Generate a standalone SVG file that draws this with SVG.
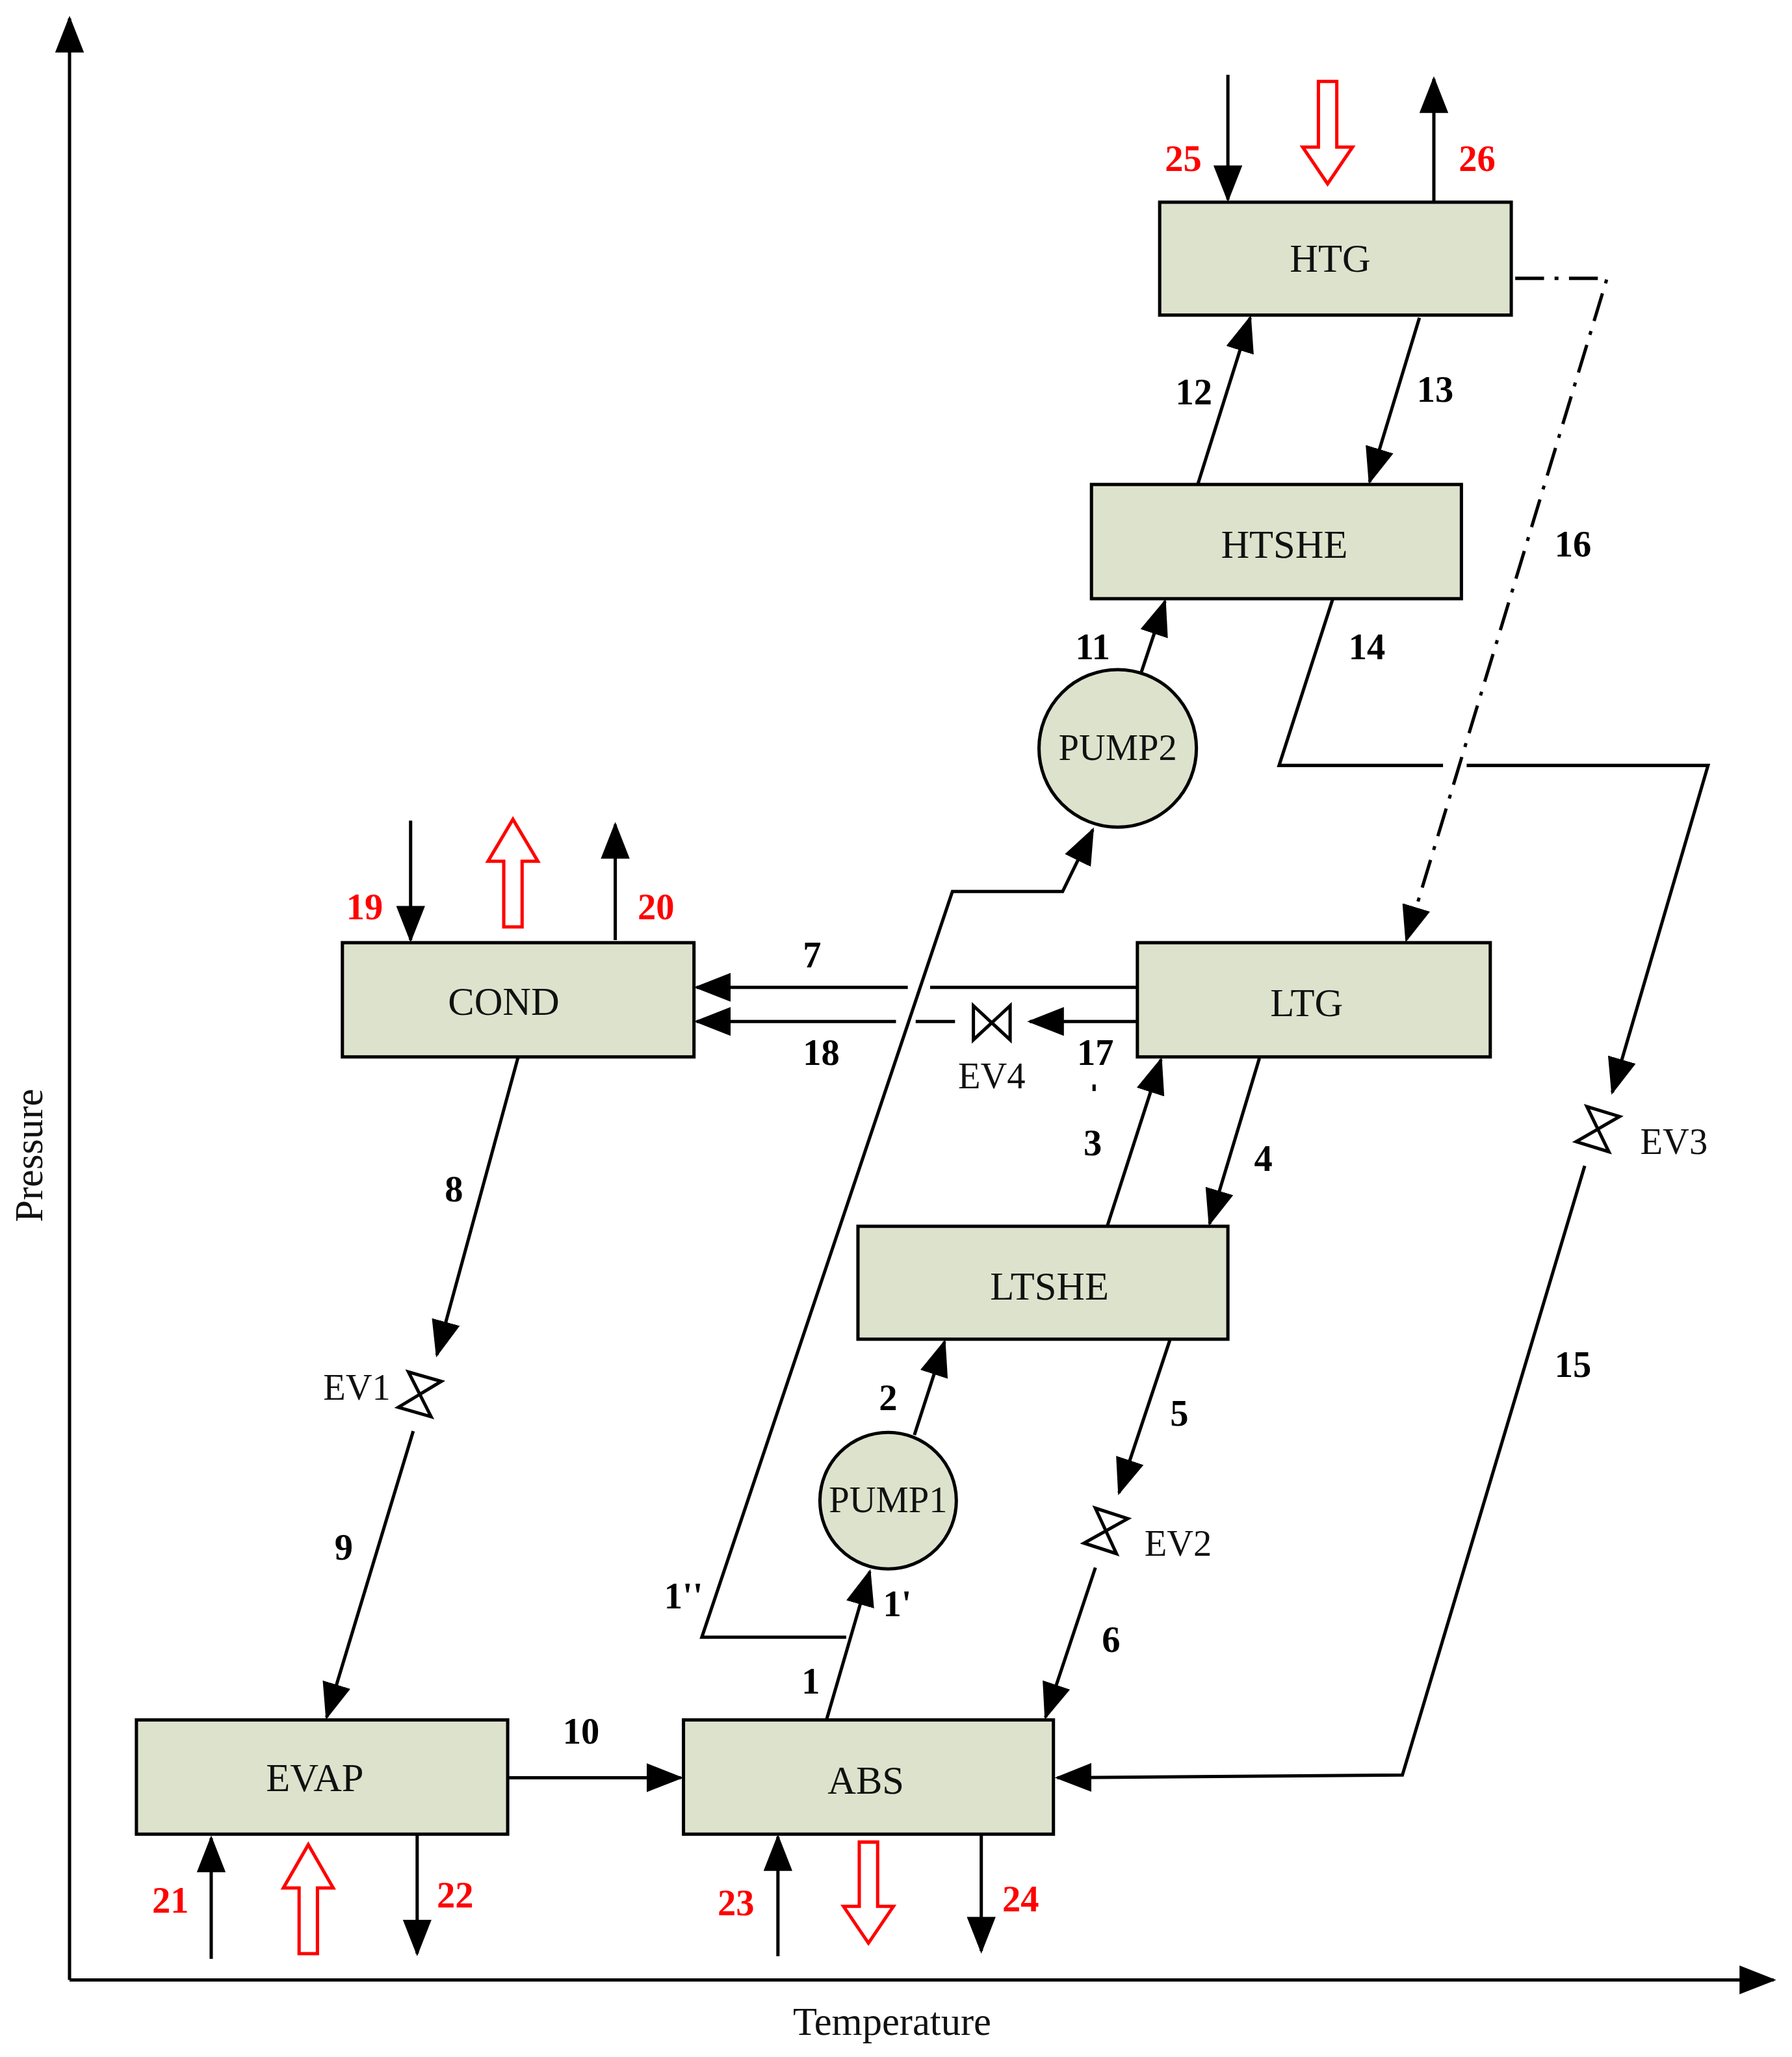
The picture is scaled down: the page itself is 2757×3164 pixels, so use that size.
<svg xmlns="http://www.w3.org/2000/svg" width="2757" height="3164" viewBox="0 0 2757 3164">
<style>
.box{fill:#dde2cc;stroke:#000;stroke-width:2.5}
.ln{fill:none;stroke:#000;stroke-width:2.5}
.dd{fill:none;stroke:#000;stroke-width:2.5;stroke-dasharray:22,8,3,8}
.hol{fill:#fff;stroke:#f00;stroke-width:2.5}
.vl{fill:#fff;stroke:#000;stroke-width:2.5}
.nm{font-family:"Liberation Serif",serif;font-size:30px;text-anchor:middle;fill:#111}
.lb{font-family:"Liberation Serif",serif;font-size:28px;font-weight:bold;text-anchor:middle;fill:#000}
.rd{font-family:"Liberation Serif",serif;font-size:28px;font-weight:bold;text-anchor:middle;fill:#f00}
.ev{font-family:"Liberation Serif",serif;font-size:28px;text-anchor:middle;fill:#111}
</style>
<defs>
<marker id="a" markerUnits="userSpaceOnUse" markerWidth="28" markerHeight="22" refX="26" refY="11" orient="auto"><path d="M0,0 L28,11 L0,22 Z" fill="#000"/></marker>
<path id="bow" d="M-14,-13 L-14,13 L0,0 Z M14,-13 L14,13 L0,0 Z"/>
</defs>
<rect width="2757" height="3164" fill="#fff"/>
<g transform="scale(2.0183,2.0195)">
<g id="axes">
<line class="ln" x1="53" y1="1508" x2="53" y2="14" marker-end="url(#a)"/>
<line class="ln" x1="53" y1="1508" x2="1352" y2="1508" marker-end="url(#a)"/>
<text class="nm" transform="translate(32,880) rotate(-90)">Pressure</text>
<text class="nm" x="680" y="1550">Temperature</text>
</g>
<g id="connectors">
<line class="ln" x1="936" y1="57" x2="936" y2="152" marker-end="url(#a)"/>
<line class="ln" x1="1093" y1="154" x2="1093" y2="60" marker-end="url(#a)"/>
<line class="ln" x1="913" y1="369" x2="953" y2="242" marker-end="url(#a)"/>
<line class="ln" x1="1082" y1="242" x2="1044" y2="367" marker-end="url(#a)"/>
<polyline class="dd" points="1155,212 1225,212 1072,716" marker-end="url(#a)"/>
<polyline class="ln" points="1016,456 975,583 1100,583"/>
<polyline class="ln" points="1118,583 1302,583 1229,832" marker-end="url(#a)"/>
<polyline class="ln" points="1208,888 1069,1352 806,1354" marker-end="url(#a)"/>
<line class="ln" x1="870" y1="512" x2="888" y2="458" marker-end="url(#a)"/>
<polyline class="ln" points="645,1247 535,1247 726,679 810,679 833,632" marker-end="url(#a)"/>
<line class="ln" x1="630" y1="1310" x2="663" y2="1197" marker-end="url(#a)"/>
<line class="ln" x1="697" y1="1093" x2="720" y2="1022" marker-end="url(#a)"/>
<line class="ln" x1="844" y1="934" x2="885" y2="807" marker-end="url(#a)"/>
<line class="ln" x1="960" y1="806" x2="922" y2="932" marker-end="url(#a)"/>
<line class="ln" x1="892" y1="1020" x2="853" y2="1137" marker-end="url(#a)"/>
<line class="ln" x1="835" y1="1194" x2="797" y2="1308" marker-end="url(#a)"/>
<line class="ln" x1="867" y1="752" x2="709" y2="752"/>
<line class="ln" x1="692" y1="752" x2="531" y2="752" marker-end="url(#a)"/>
<line class="ln" x1="867" y1="778" x2="785" y2="778" marker-end="url(#a)"/>
<line class="ln" x1="728" y1="778" x2="698" y2="778"/>
<line class="ln" x1="683" y1="778" x2="531" y2="778" marker-end="url(#a)"/>
<line class="ln" x1="834" y1="826" x2="834" y2="831"/>
<line class="ln" x1="395" y1="805" x2="333" y2="1032" marker-end="url(#a)"/>
<line class="ln" x1="315" y1="1090" x2="249" y2="1308" marker-end="url(#a)"/>
<line class="ln" x1="387" y1="1354" x2="519" y2="1354" marker-end="url(#a)"/>
<line class="ln" x1="161" y1="1492" x2="161" y2="1400" marker-end="url(#a)"/>
<line class="ln" x1="318" y1="1397" x2="318" y2="1488" marker-end="url(#a)"/>
<line class="ln" x1="593" y1="1490" x2="593" y2="1399" marker-end="url(#a)"/>
<line class="ln" x1="748" y1="1397" x2="748" y2="1486" marker-end="url(#a)"/>
<line class="ln" x1="313" y1="625" x2="313" y2="716" marker-end="url(#a)"/>
<line class="ln" x1="469" y1="716" x2="469" y2="628" marker-end="url(#a)"/>
<polygon class="hol" points="1005,62 1019,62 1019,112 1031,112 1012,140 993,112 1005,112"/>
<polygon class="hol" points="384,706 398,706 398,656 410,656 391,624 372,656 384,656"/>
<polygon class="hol" points="228,1488 242,1488 242,1438 254,1438 235,1405 216,1438 228,1438"/>
<polygon class="hol" points="655,1403 669,1403 669,1452 681,1452 662,1480 643,1452 655,1452"/>
<use href="#bow" class="vl" transform="translate(756,779)"/>
<use href="#bow" class="vl" transform="translate(320,1062) rotate(106)"/>
<use href="#bow" class="vl" transform="translate(843,1166) rotate(108)"/>
<use href="#bow" class="vl" transform="translate(1218,860) rotate(107)"/>
</g>
<g id="HTG"><rect class="box" x="884" y="154" width="268" height="86"/><text class="nm" x="1014" y="207">HTG</text></g>
<g id="HTSHE"><rect class="box" x="832" y="369" width="282" height="87"/><text class="nm" x="979" y="425">HTSHE</text></g>
<g id="LTG"><rect class="box" x="867" y="718" width="269" height="87"/><text class="nm" x="996" y="774">LTG</text></g>
<g id="COND"><rect class="box" x="261" y="718" width="268" height="87"/><text class="nm" x="384" y="773">COND</text></g>
<g id="LTSHE"><rect class="box" x="654" y="934" width="282" height="86"/><text class="nm" x="800" y="990">LTSHE</text></g>
<g id="EVAP"><rect class="box" x="104" y="1310" width="283" height="87"/><text class="nm" x="240" y="1364">EVAP</text></g>
<g id="ABS"><rect class="box" x="521" y="1310" width="282" height="87"/><text class="nm" x="660" y="1366">ABS</text></g>
<g id="PUMP2"><circle class="box" cx="852" cy="570" r="60"/><text class="ev" x="852" y="579">PUMP2</text></g>
<g id="PUMP1"><circle class="box" cx="677" cy="1143" r="52"/><text class="ev" x="677" y="1152">PUMP1</text></g>
<g id="labels">
<text class="rd" x="902" y="130">25</text><text class="rd" x="1126" y="130">26</text>
<text class="rd" x="278" y="700">19</text><text class="rd" x="500" y="700">20</text>
<text class="rd" x="130" y="1457">21</text><text class="rd" x="347" y="1453">22</text>
<text class="rd" x="561" y="1459">23</text><text class="rd" x="778" y="1456">24</text>
<text class="lb" x="910" y="308">12</text><text class="lb" x="1094" y="306">13</text>
<text class="lb" x="1199" y="424">16</text><text class="lb" x="833" y="502">11</text>
<text class="lb" x="1042" y="502">14</text><text class="lb" x="619" y="737">7</text>
<text class="lb" x="626" y="811">18</text><text class="lb" x="835" y="811">17</text>
<text class="lb" x="833" y="880">3</text><text class="lb" x="963" y="892">4</text>
<text class="lb" x="346" y="915">8</text><text class="lb" x="677" y="1074">2</text>
<text class="lb" x="899" y="1086">5</text><text class="lb" x="262" y="1188">9</text>
<text class="lb" x="1199" y="1049">15</text><text class="lb" x="847" y="1258">6</text>
<text class="lb" x="521" y="1225">1''</text><text class="lb" x="684" y="1231">1'</text>
<text class="lb" x="618" y="1290">1</text><text class="lb" x="443" y="1328">10</text>
<text class="ev" x="756" y="829">EV4</text><text class="ev" x="1276" y="879">EV3</text>
<text class="ev" x="272" y="1066">EV1</text><text class="ev" x="898" y="1185">EV2</text>
</g>
</g>
</svg>
